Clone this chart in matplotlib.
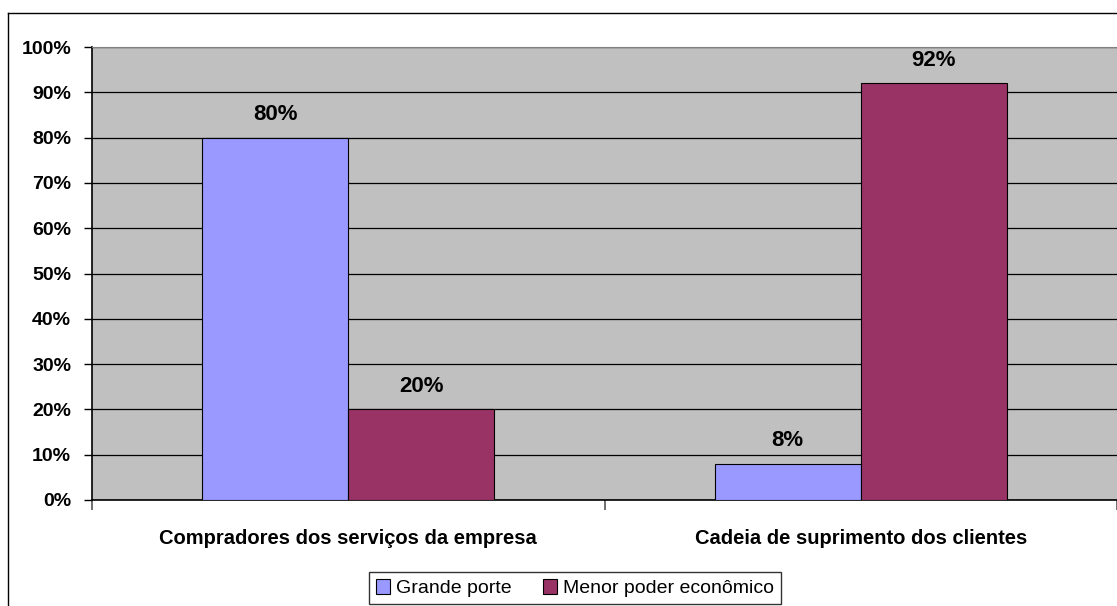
import matplotlib.pyplot as plt
from matplotlib.lines import Line2D
import numpy as np

plt.rcParams['font.family'] = ['Liberation Sans', 'DejaVu Sans']

categorias = ['Compradores dos serviços da empresa', 'Cadeia de suprimento dos clientes']
series = ['Grande porte', 'Menor poder econômico']
grande_porte = [80, 8]
menor_poder = [20, 92]
cores = ['#9999FF', '#993366']

fig = plt.figure(figsize=(11.17, 6.06), dpi=100, facecolor='white')
ax = fig.add_axes([92 / 1117, 1 - 500 / 606, 1025 / 1117, 453 / 606])
ax.set_facecolor('#C0C0C0')

x = np.arange(len(categorias))
w = 0.285
barras = []
for i, (vals, nome) in enumerate(zip([grande_porte, menor_poder], series)):
    pos = x + (i - 0.5) * w
    b = ax.bar(pos, vals, w, color=cores[i], edgecolor='black',
               linewidth=0.8, label=nome, zorder=3)
    barras.append(b)
    for xi, v in zip(pos, vals):
        ax.annotate(f'{v}%', (xi, v), xytext=(0, 9), textcoords='offset points',
                    ha='center', va='bottom', fontsize=16, fontweight='bold',
                    zorder=4)

ax.set_xlim(-0.5, 1.5)
ax.set_ylim(0, 100)
ax.set_yticks(range(0, 101, 10))
ax.set_yticklabels([f'{t}%' for t in range(0, 101, 10)],
                   fontsize=14, fontweight='bold')
ax.yaxis.grid(True, color='black', linewidth=0.9, zorder=1)
ax.set_axisbelow(True)

# categorias com marcas entre os grupos
ax.set_xticks([-0.5, 0.5, 1.5])
ax.set_xticklabels([])
ax.set_xticks(x, minor=True)
ax.set_xticklabels(categorias, minor=True, fontsize=14.5, fontweight='bold')
ax.tick_params(axis='x', which='minor', length=0, pad=21)
ax.tick_params(axis='x', which='major', length=7, color='#555555', width=1.2)
ax.tick_params(axis='y', length=6, width=1, pad=9)

for s in ['left', 'bottom']:
    ax.spines[s].set_color('black')
    ax.spines[s].set_linewidth(1.2)
ax.spines['top'].set_color('#808080')
ax.spines['right'].set_visible(False)

# moldura externa do gráfico
fig.add_artist(Line2D([8 / 1117, 8 / 1117], [0, 1 - 13 / 606],
                      transform=fig.transFigure, color='black', linewidth=1))
fig.add_artist(Line2D([8 / 1117, 1], [1 - 13 / 606, 1 - 13 / 606],
                      transform=fig.transFigure, color='black', linewidth=1))

leg = fig.legend(handles=barras, labels=series, loc='lower center',
                 bbox_to_anchor=(575 / 1117, 2 / 606), ncol=2, fontsize=14,
                 frameon=True, fancybox=False, edgecolor='black',
                 handlelength=0.75, handleheight=0.75, handletextpad=0.3,
                 columnspacing=1.6, borderpad=0.35, borderaxespad=0)
leg.get_frame().set_linewidth(1)

fig.savefig('out.png', dpi=100, facecolor='white')
